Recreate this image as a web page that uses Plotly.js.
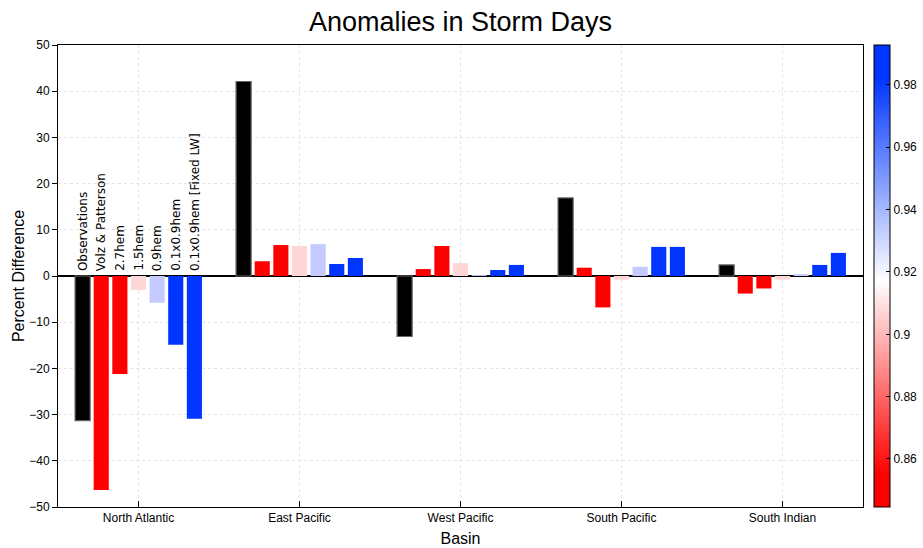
<!DOCTYPE html>
<html><head><meta charset="utf-8">
<script src="https://cdn.plot.ly/plotly-3.0.1.min.js"></script>
<style>html,body{margin:0;padding:0;background:#fff}#chart{width:923px;height:548px}</style>
</head><body><div id="chart"></div>
<script>
const basins = ["North Atlantic", "East Pacific", "West Pacific", "South Pacific", "South Indian"];
const seriesNames = ["Observations", "Volz & Patterson", "2.7hem", "1.5hem", "0.9hem", "0.1x0.9hem", "0.1x0.9hem [Fixed LW]"];
const observations = [-31.3, 42.1, -13.1, 16.9, 2.4];
const volzPatterson = [-46.3, 3.2, 1.5, 1.8, -3.8];
const hem27 = [-21.2, 6.7, 6.5, -6.8, -2.7];
const hem15 = [-3.0, 6.5, 2.8, -0.8, -0.8];
const hem09 = [-5.8, 6.9, 0.2, 2.0, 0.4];
const hem01x09 = [-14.9, 2.6, 1.3, 6.3, 2.4];
const hem01x09Fixed = [-30.9, 3.9, 2.4, 6.3, 5.0];
const seriesColors = ["#000000", "#ff0000", "#ff0000", "#ffd6d6", "#c4c9ff", "#0035ff", "#0035ff"];
const colorbarRange = [0.8446, 0.9928];
const colorbarTicks = [0.86, 0.88, 0.9, 0.92, 0.94, 0.96, 0.98];

const allSeries = [observations, volzPatterson, hem27, hem15, hem09, hem01x09, hem01x09Fixed];
const traces = allSeries.map((vals, i) => ({
  type: "bar",
  name: seriesNames[i],
  x: basins,
  y: vals,
  marker: {color: seriesColors[i], line: {color: i === 0 ? "#666" : seriesColors[i], width: i === 0 ? 1.2 : 0}},
  showlegend: false,
  hoverinfo: "skip"
}));
traces.push({
  type: "scatter", mode: "markers", x: [basins[0], basins[0]], y: [null, null],
  showlegend: false, hoverinfo: "skip",
  marker: {
    color: colorbarRange, cmin: colorbarRange[0], cmax: colorbarRange[1], showscale: true,
    colorscale: [[0, "#ff0000"], [0.07, "#ff0000"], [0.49, "#ffffff"], [0.93, "#0035ff"], [1, "#0035ff"]],
    colorbar: {
      x: 1.0137, xanchor: "left", xpad: 0, y: 0.5, yanchor: "middle", ypad: 0,
      len: 1, lenmode: "fraction", thickness: 16, thicknessmode: "pixels",
      outlinewidth: 1, outlinecolor: "#000",
      tickvals: colorbarTicks, ticks: "inside", ticklen: 4, tickcolor: "#000",
      tickfont: {family: "Liberation Sans, Arial", size: 12, color: "#000"}
    }
  }
});

const nSeries = seriesNames.length;
const slot = 0.81 / nSeries;
const annotations = seriesNames.map((name, i) => ({
  x: 0 + (i - (nSeries - 1) / 2) * slot, xref: "x", y: 0, yref: "y",
  text: name, textangle: -90, showarrow: false,
  xanchor: "center", yanchor: "bottom", yshift: 3,
  font: {family: "DejaVu Sans", size: 12, color: "#000"}
}));

const layout = {
  width: 923, height: 548,
  margin: {l: 58, r: 60, t: 45, b: 41, autoexpand: false},
  paper_bgcolor: "#fff", plot_bgcolor: "#fff",
  barmode: "group", bargap: 0.19, bargroupgap: 0.19,
  title: {text: "Anomalies in Storm Days", x: 0.5, xref: "paper", y: 0.961, yref: "container", yanchor: "middle",
    font: {family: "Liberation Sans, Arial", size: 27, color: "#000"}},
  xaxis: {
    type: "category", range: [-0.5, 4.5],
    showline: true, linecolor: "#000", linewidth: 1, mirror: true,
    showgrid: true, gridcolor: "#e4e4e4", griddash: "dot", gridwidth: 1,
    ticks: "inside", ticklen: 6, tickcolor: "#000",
    tickfont: {family: "Liberation Sans, Arial", size: 12, color: "#000"},
    title: {text: "Basin", font: {family: "Liberation Sans, Arial", size: 16, color: "#000"}, standoff: 8}
  },
  yaxis: {
    range: [-50, 50], dtick: 10,
    showline: true, linecolor: "#000", linewidth: 1, mirror: true,
    showgrid: true, gridcolor: "#e4e4e4", griddash: "dot", gridwidth: 1,
    zeroline: true, zerolinecolor: "#000", zerolinewidth: 1.5,
    ticks: "outside", ticklen: 5, tickcolor: "#000",
    tickfont: {family: "Liberation Sans, Arial", size: 12, color: "#000"},
    title: {text: "Percent Difference", font: {family: "Liberation Sans, Arial", size: 16, color: "#000"}, standoff: 0}
  },
  annotations: annotations
};
Plotly.newPlot("chart", traces, layout, {displayModeBar: false, staticPlot: true});
</script></body></html>
